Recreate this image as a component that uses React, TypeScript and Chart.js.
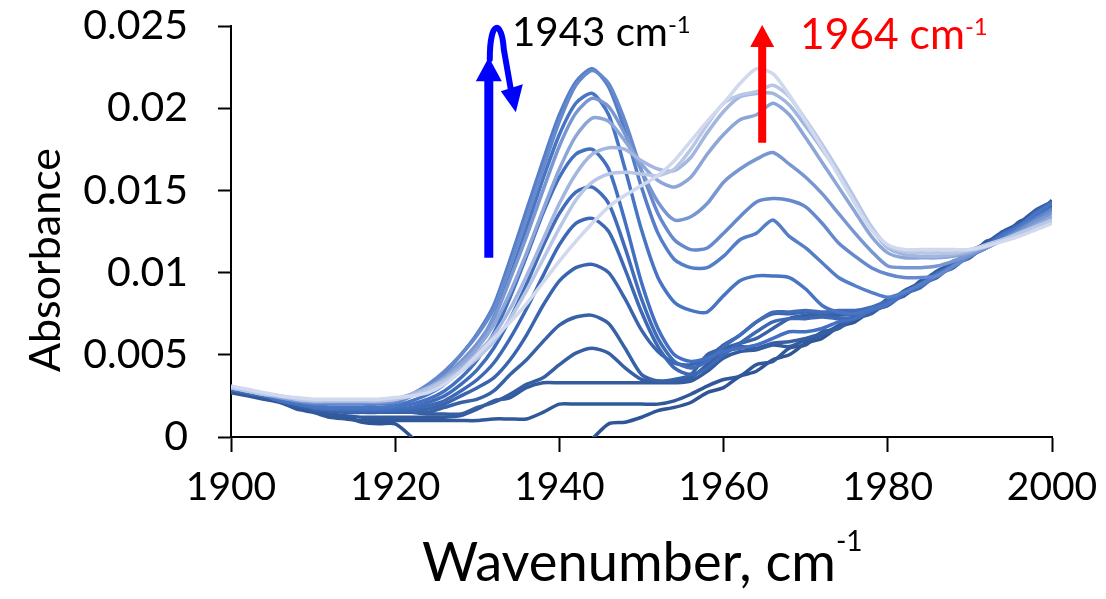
import React, { useEffect, useRef } from 'react';
import { Chart, registerables } from 'chart.js';

Chart.register(...registerables);

// Wavenumber grid (cm-1)
const WAVENUMBERS = [1900,1902,1904,1906,1908,1910,1912,1914,1916,1918,1920,1922,1924,1926,1928,1930,1932,1934,1936,1938,1940,1942,1944,1946,1948,1950,1952,1954,1956,1958,1960,1962,1964,1966,1968,1970,1972,1974,1976,1978,1980,1982,1984,1986,1988,1990,1992,1994,1996,1998,2000];

// Spectra, darkest (earliest) to lightest (latest)
const S0 = [0.0028,0.0027,0.0024,0.0022,0.0018,0.0016,0.0013,0.0012,0.0009,0.0008,0.0008, 0,-0.001,-0.0012,-0.0012,-0.0012,-0.0012,-0.0012,-0.0012,-0.0012,-0.0012, -0.0008,-0.0001,0.0008,0.0009,0.0012,0.0016,0.0018,0.0021,0.0027,0.003,0.0037,0.004,0.0047,0.005,0.0057,0.006,0.0067,0.007,0.0077,0.008,0.0088,0.0092,0.01,0.0104,0.0112,0.0116,0.0124,0.0128,0.0137,0.0142];
const S1 = [0.0027,0.0025,0.0023,0.0021,0.0017,0.0015,0.0012,0.0011,0.001,0.001,0.001, 0.001,0.001,0.001,0.001,0.001,0.0011,0.0011,0.0011,0.0015,0.002, 0.002,0.002,0.002,0.002,0.002,0.002,0.0022,0.0026,0.0031,0.0035,0.0037,0.0044,0.0046,0.0054,0.0056,0.0064,0.0066,0.0074,0.0076,0.0084,0.0086,0.0095,0.0098,0.0107,0.011,0.0119,0.0122,0.0131,0.0134,0.0144];
const S2 = [0.0028,0.0026,0.0025,0.0022,0.0019,0.0016,0.0014,0.0013,0.0012,0.0012,0.0012, 0.0012,0.0012,0.0012,0.0013,0.0017,0.0022,0.0024,0.003,0.0033,0.0033, 0.0033,0.0033,0.0033,0.0033,0.0033,0.0033,0.0033,0.0034,0.004,0.0048,0.0052,0.0053,0.0056,0.0055,0.0059,0.0062,0.0068,0.0072,0.0078,0.0082,0.0089,0.0094,0.0101,0.0106,0.0113,0.0118,0.0125,0.013,0.0138,0.0143];
const S3 = [0.0029,0.0027,0.0025,0.0023,0.0019,0.0017,0.0016,0.0016,0.0015,0.0015,0.0015, 0.0015,0.0014,0.0014,0.0014,0.0018,0.0021,0.0026,0.0032,0.0036,0.0044, 0.0051,0.0054,0.0051,0.0042,0.0035,0.0034,0.0034,0.0036,0.0044,0.0052,0.0055,0.0054,0.0057,0.0058,0.006,0.0063,0.0066,0.0072,0.0075,0.0082,0.0086,0.0093,0.0097,0.0105,0.0109,0.0117,0.0121,0.0129,0.0133,0.0141];
const S4 = [0.0029,0.0027,0.0025,0.0022,0.002,0.0017,0.0016,0.0015,0.0015,0.0015,0.0015, 0.0015,0.0015,0.0018,0.0021,0.0023,0.0028,0.0038,0.0047,0.0058,0.0068, 0.0073,0.0074,0.0069,0.0054,0.0038,0.0034,0.0035,0.0038,0.005,0.0054,0.0057,0.006,0.0066,0.0072,0.0074,0.0074,0.0074,0.0075,0.0077,0.0081,0.0087,0.0092,0.0099,0.0104,0.0111,0.0116,0.0123,0.0128,0.0136,0.0142];
const S5 = [0.0029,0.0027,0.0025,0.0022,0.002,0.0018,0.0017,0.0016,0.0016,0.0016,0.0016, 0.0016,0.0017,0.002,0.0025,0.003,0.0036,0.0047,0.0062,0.008,0.0095, 0.0103,0.0105,0.01,0.0084,0.0065,0.0052,0.0045,0.0044,0.0048,0.0056,0.0062,0.007,0.0075,0.0075,0.0076,0.0075,0.0076,0.0076,0.0077,0.0081,0.0088,0.0092,0.01,0.0104,0.0112,0.0116,0.0124,0.0128,0.0137,0.0143];
const S6 = [0.0029,0.0027,0.0025,0.0022,0.002,0.0018,0.0017,0.0016,0.0016,0.0016,0.0016, 0.0017,0.0019,0.0022,0.0028,0.0035,0.0045,0.006,0.0078,0.0098,0.0117, 0.013,0.0133,0.0125,0.0102,0.0076,0.0055,0.0042,0.0038,0.0042,0.005,0.0057,0.0064,0.007,0.0072,0.0072,0.0073,0.0072,0.0073,0.0077,0.008,0.0087,0.0091,0.0099,0.0103,0.0111,0.0115,0.0123,0.0127,0.0136,0.0142];
const S7 = [0.0029,0.0027,0.0025,0.0022,0.002,0.0018,0.0017,0.0017,0.0017,0.0017,0.0017, 0.0018,0.0021,0.0025,0.0032,0.0041,0.0054,0.0072,0.0093,0.0116,0.0136, 0.0149,0.0152,0.0142,0.0115,0.0084,0.006,0.0046,0.0042,0.0046,0.0055,0.0062,0.007,0.0076,0.0076,0.0077,0.0076,0.0077,0.0077,0.0079,0.0083,0.0088,0.0093,0.0099,0.0105,0.0111,0.0117,0.0123,0.0129,0.0135,0.0143];
const S8 = [0.0029,0.0027,0.0025,0.0022,0.002,0.0018,0.0017,0.0017,0.0017,0.0017,0.0018, 0.002,0.0023,0.0028,0.0036,0.0047,0.0063,0.0085,0.011,0.0136,0.0158, 0.0172,0.0175,0.0163,0.0131,0.0094,0.0066,0.005,0.0046,0.0048,0.0052,0.0054,0.0056,0.006,0.0064,0.0064,0.0066,0.007,0.0072,0.0077,0.0081,0.0087,0.0092,0.0098,0.0104,0.011,0.0116,0.0122,0.0128,0.0135,0.0142];
const S9 = [0.003,0.0028,0.0026,0.0023,0.0021,0.0019,0.0018,0.0018,0.0018,0.0018,0.0019, 0.0022,0.0026,0.0032,0.0042,0.0055,0.0073,0.0098,0.0127,0.0157,0.0184, 0.0203,0.0209,0.0196,0.0163,0.0126,0.0097,0.0082,0.0077,0.0076,0.0086,0.0095,0.0098,0.0098,0.0097,0.009,0.008,0.0076,0.0075,0.0078,0.0081,0.0088,0.0092,0.0099,0.0104,0.0111,0.0116,0.0123,0.0128,0.0136,0.0142];
const S10 = [0.003,0.0028,0.0026,0.0024,0.0022,0.002,0.002,0.002,0.002,0.002,0.0021, 0.0025,0.0031,0.0039,0.005,0.0063,0.008,0.0108,0.0138,0.0168,0.0196, 0.0216,0.0224,0.0213,0.0186,0.0152,0.0124,0.0108,0.0103,0.0103,0.011,0.012,0.0124,0.0132,0.0122,0.0115,0.0106,0.0097,0.0092,0.0088,0.0085,0.0088,0.0093,0.0098,0.0104,0.011,0.0115,0.0121,0.0127,0.0133,0.0139];
const S11 = [0.003,0.0028,0.0026,0.0024,0.0022,0.0021,0.0021,0.0021,0.0021,0.0021,0.0022, 0.0026,0.0032,0.004,0.005,0.0062,0.0078,0.0104,0.0133,0.0163,0.0192, 0.0214,0.0223,0.0215,0.0192,0.0162,0.0136,0.012,0.0114,0.0115,0.0124,0.0134,0.0143,0.0145,0.0144,0.014,0.013,0.0118,0.011,0.0103,0.0099,0.0097,0.0097,0.0098,0.0104,0.011,0.0115,0.012,0.0126,0.0132,0.0138];
const S12 = [0.003,0.0028,0.0026,0.0024,0.0022,0.0021,0.0021,0.0021,0.0021,0.0021,0.0022, 0.0025,0.003,0.0037,0.0046,0.0057,0.0072,0.0096,0.0122,0.015,0.0177, 0.0197,0.0206,0.0201,0.0184,0.0162,0.0143,0.0132,0.0134,0.0142,0.0155,0.0163,0.0169,0.0173,0.0166,0.0158,0.0148,0.0136,0.0124,0.0113,0.0104,0.0103,0.0103,0.0104,0.0107,0.0111,0.0115,0.012,0.0125,0.0131,0.0136];
const S13 = [0.003,0.0028,0.0026,0.0024,0.0023,0.0022,0.0022,0.0022,0.0022,0.0022,0.0023, 0.0026,0.003,0.0036,0.0044,0.0054,0.0068,0.0088,0.0112,0.0138,0.0163, 0.0183,0.0194,0.0192,0.018,0.0166,0.0156,0.0152,0.0158,0.0172,0.0184,0.0193,0.0196,0.0203,0.0196,0.0182,0.0167,0.0152,0.0137,0.0122,0.0112,0.0109,0.0109,0.0109,0.011,0.0112,0.0116,0.012,0.0124,0.0129,0.0134];
const S14 = [0.003,0.0028,0.0026,0.0025,0.0023,0.0022,0.0022,0.0022,0.0022,0.0022,0.0023, 0.0026,0.003,0.0035,0.0042,0.0051,0.0062,0.0078,0.0098,0.012,0.0142, 0.016,0.0172,0.0176,0.0175,0.0168,0.0163,0.0162,0.017,0.0185,0.0198,0.0207,0.0209,0.0209,0.0202,0.0189,0.0175,0.016,0.0143,0.0127,0.0115,0.0111,0.011,0.011,0.0111,0.0113,0.0116,0.012,0.0123,0.0127,0.0131];
const S15 = [0.003,0.0028,0.0026,0.0025,0.0023,0.0022,0.0022,0.0022,0.0022,0.0022,0.0023, 0.0025,0.0029,0.0034,0.004,0.0048,0.0058,0.0072,0.0089,0.0108,0.0127, 0.0144,0.0155,0.016,0.0161,0.016,0.0159,0.0163,0.0175,0.019,0.0203,0.0208,0.021,0.0214,0.0207,0.0193,0.0178,0.0162,0.0145,0.0128,0.0116,0.0113,0.0112,0.0112,0.0112,0.0114,0.0117,0.012,0.0124,0.0128,0.0132];
const S16 = [0.0031,0.0029,0.0027,0.0025,0.0024,0.0023,0.0023,0.0023,0.0023,0.0023,0.0024, 0.0025,0.0027,0.0032,0.004,0.005,0.006,0.007,0.0081,0.0094,0.0107, 0.0119,0.013,0.014,0.0147,0.0153,0.0159,0.0168,0.018,0.0192,0.0203,0.0215,0.0224,0.0221,0.0208,0.0192,0.0176,0.0159,0.0142,0.0126,0.0117,0.0114,0.0114,0.0114,0.0114,0.0114,0.0116,0.0119,0.0122,0.0126,0.013];

const SERIES = [S0, S1, S2, S3, S4, S5, S6, S7, S8, S9, S10, S11, S12, S13, S14, S15, S16];

const COLORS = ['#2F5597','#315899','#335B9E','#365EA3','#3862A8','#3A65AE','#3D68B4','#406CBA','#4370C0','#4874C4','#557EC8','#6689CD','#7896D2','#8DA6D8','#A2B6DF','#B9C7E6','#D0D9EE'];

const X_TICK_LABELS = ['1900', '1920', '1940', '1960', '1980', '2000'];
const Y_TICK_LABELS = ['0', '0.005', '0.01', '0.015', '0.02', '0.025'];
const X_TITLE = 'Wavenumber, cm';
const Y_TITLE = 'Absorbance';
const SUP = '-1';
const BAND_LOW = '1943 cm';
const BAND_HIGH = '1964 cm';

// draw text scaled (by font size) to a target width; returns the right end x
function drawFit(ctx: any, text: string, x: number, y: number, family: string, width: number) {
  ctx.font = `100px ${family}`;
  const w = ctx.measureText(text).width;
  const size = (100 * width) / w;
  ctx.font = `${size}px ${family}`;
  ctx.fillText(text, x, y);
  return x + ctx.measureText(text).width;
}

const annotationPlugin = {
  id: 'spectraAnnotations',
  afterDraw(chart: any) {
    const { ctx } = chart;
    const xs = chart.scales.x;
    const ys = chart.scales.y;
    ctx.save();
    ctx.textAlign = 'left';
    ctx.textBaseline = 'alphabetic';

    // Y title (rotated)
    ctx.save();
    ctx.fillStyle = '#000';
    ctx.translate(60, 372);
    ctx.rotate(-Math.PI / 2);
    drawFit(ctx, Y_TITLE, 0, 0, 'Lato', 224);
    ctx.restore();

    // X title with superscript
    ctx.fillStyle = '#000';
    const xEnd = drawFit(ctx, X_TITLE, 422, 581, 'Lato', 414);
    ctx.font = '28px Lato';
    ctx.fillText(SUP, xEnd, 551);

    // Blue arrow (1943)
    const bx = xs.getPixelForValue(1931.4);
    const bBottom = ys.getPixelForValue(0.0109);
    const bTip = ys.getPixelForValue(0.0231);
    ctx.strokeStyle = '#0000FF';
    ctx.fillStyle = '#0000FF';
    ctx.lineCap = 'butt';
    ctx.lineWidth = 9;
    ctx.beginPath();
    ctx.moveTo(bx, bBottom);
    ctx.lineTo(bx, bTip + 20);
    ctx.stroke();
    ctx.beginPath();
    ctx.moveTo(bx - 13, bTip + 24);
    ctx.lineTo(bx + 13, bTip + 24);
    ctx.lineTo(bx, bTip);
    ctx.closePath();
    ctx.fill();
    ctx.lineWidth = 6;
    ctx.lineCap = 'round';
    ctx.beginPath();
    ctx.moveTo(bx + 1, bTip + 2);
    ctx.bezierCurveTo(bx + 1, bTip - 38, bx + 13, bTip - 38, bx + 15, bTip - 8);
    ctx.lineTo(bx + 22, bTip + 32);
    ctx.stroke();
    ctx.beginPath();
    ctx.moveTo(bx + 12, bTip + 34);
    ctx.lineTo(bx + 34, bTip + 27);
    ctx.lineTo(bx + 27, bTip + 55);
    ctx.closePath();
    ctx.fill();

    // Red arrow (1964)
    const rx = xs.getPixelForValue(1964.7);
    const rBottom = ys.getPixelForValue(0.0179);
    const rTip = ys.getPixelForValue(0.02506);
    ctx.strokeStyle = '#FF0000';
    ctx.fillStyle = '#FF0000';
    ctx.lineCap = 'butt';
    ctx.lineWidth = 8;
    ctx.beginPath();
    ctx.moveTo(rx, rBottom);
    ctx.lineTo(rx, rTip + 20);
    ctx.stroke();
    ctx.beginPath();
    ctx.moveTo(rx - 12, rTip + 22);
    ctx.lineTo(rx + 12, rTip + 22);
    ctx.lineTo(rx, rTip);
    ctx.closePath();
    ctx.fill();

    // Band labels
    ctx.fillStyle = '#000';
    const lowEnd = drawFit(ctx, BAND_LOW, 512, 46, 'Lato', 156);
    ctx.font = '24px Lato';
    ctx.fillText(SUP, lowEnd, 33);
    ctx.fillStyle = '#FF0000';
    const highEnd = drawFit(ctx, BAND_HIGH, 800, 49, 'Lato', 165);
    ctx.font = '24px Lato';
    ctx.fillText(SUP, highEnd, 35);

    ctx.restore();
  },
};

export default function App() {
  const ref = useRef<HTMLCanvasElement>(null);
  useEffect(() => {
    if (!ref.current) return;
    const chart = new Chart(ref.current, {
      type: 'line',
      data: {
        datasets: SERIES.map((s, i) => ({
          label: 'spectrum ' + (i + 1),
          data: s.map((v, j) => ({ x: WAVENUMBERS[j], y: v })),
          borderColor: COLORS[i],
          backgroundColor: COLORS[i],
          borderWidth: 3.5,
          pointRadius: 0,
          tension: 0.25,
          fill: false,
          order: SERIES.length - 1 - i,
        })),
      },
      options: {
        responsive: false,
        animation: false,
        events: [],
        layout: { padding: { top: 26, right: 54, left: 0, bottom: 0 } },
        plugins: { legend: { display: false }, tooltip: { enabled: false } },
        scales: {
          x: {
            type: 'linear',
            min: 1900,
            max: 2000,
            afterFit(scale: any) {
              scale.height = 162;
              scale.paddingLeft = 0;
              scale.paddingRight = 0;
            },
            ticks: {
              stepSize: 20,
              autoSkip: false,
              maxRotation: 0,
              callback: (_v: any, i: number) => X_TICK_LABELS[i],
              font: { family: 'Lato', size: 39 },
              color: '#000',
              padding: 12,
            },
            grid: { drawOnChartArea: false, drawTicks: true, tickLength: 15, tickColor: '#000', tickWidth: 2 },
            border: { display: true, color: '#000', width: 2 },
          },
          y: {
            type: 'linear',
            min: 0,
            max: 0.025,
            afterFit(scale: any) {
              scale.width = 231;
              scale.paddingTop = 0;
              scale.paddingBottom = 0;
            },
            ticks: {
              stepSize: 0.005,
              autoSkip: false,
              callback: (_v: any, i: number) => Y_TICK_LABELS[i],
              font: { family: 'Lato', size: 41 },
              color: '#000',
              padding: 30,
            },
            grid: { drawOnChartArea: false, drawTicks: true, tickLength: 13, tickColor: '#000', tickWidth: 2 },
            border: { display: true, color: '#000', width: 2 },
          },
        },
      },
      plugins: [annotationPlugin],
    });
    return () => chart.destroy();
  }, []);
  return (
    <div style={{ position: 'fixed', left: 0, top: 0, width: 1106, height: 599, background: '#fff' }}>
      <canvas ref={ref} width={1106} height={599} style={{ display: 'block' }} />
    </div>
  );
}
